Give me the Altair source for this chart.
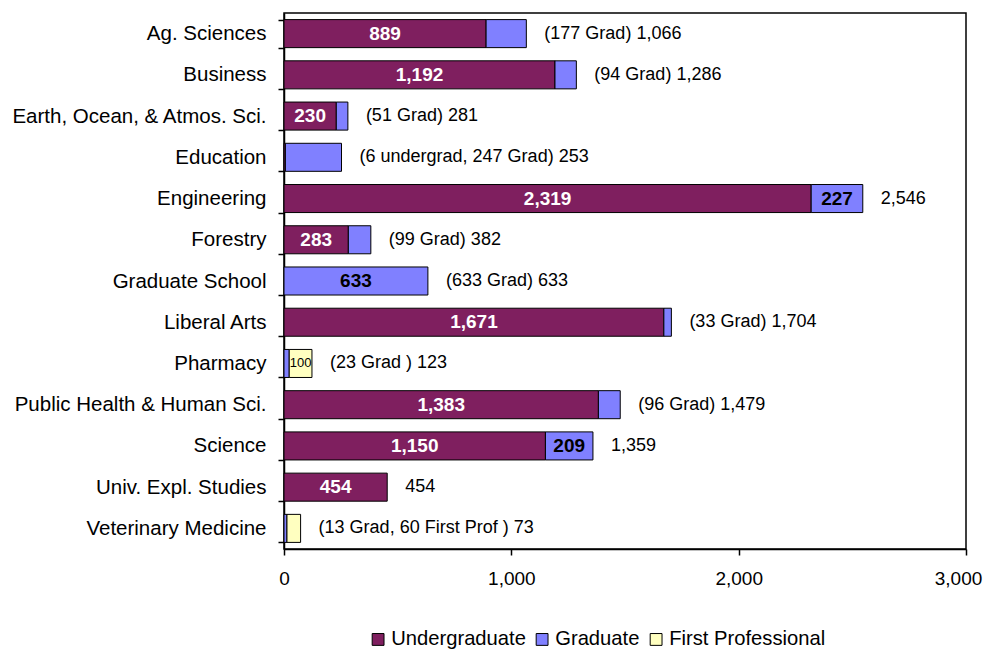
import altair as alt
import pandas as pd

categories = ["Ag. Sciences", "Business", "Earth, Ocean, & Atmos. Sci.", "Education",
              "Engineering", "Forestry", "Graduate School", "Liberal Arts", "Pharmacy",
              "Public Health & Human Sci.", "Science", "Univ. Expl. Studies",
              "Veterinary Medicine"]
undergraduate = [889, 1192, 230, 6, 2319, 283, 0, 1671, 0, 1383, 1150, 454, 0]
graduate = [177, 94, 51, 247, 227, 99, 633, 33, 23, 96, 209, 0, 13]
first_prof = [0, 0, 0, 0, 0, 0, 0, 0, 100, 0, 0, 0, 60]
right_labels = ["(177 Grad) 1,066", "(94 Grad) 1,286", "(51 Grad) 281",
                "(6 undergrad, 247 Grad) 253", "2,546", "(99 Grad) 382",
                "(633 Grad) 633", "(33 Grad) 1,704", "(23 Grad ) 123",
                "(96 Grad) 1,479", "1,359", "454", "(13 Grad, 60 First Prof ) 73"]
x_ticks = [0, 1000, 2000, 3000]
# which segments carry an inner value label
undergrad_labelled = [True, True, True, False, True, True, False, True, False, True, True, True, False]
grad_labelled = [False, False, False, False, True, False, True, False, False, False, True, False, False]
fp_labelled = [False, False, False, False, False, False, False, False, True, False, False, False, False]

series = ["Undergraduate", "Graduate", "First Professional"]
colors = ["#7F1F5F", "#8080FF", "#FFFFC0"]

rows = []
for i, c in enumerate(categories):
    start = 0
    for k, (s, vals, flags) in enumerate(zip(series,
                                             [undergraduate, graduate, first_prof],
                                             [undergrad_labelled, grad_labelled, fp_labelled])):
        v = vals[i]
        if v > 0:
            rows.append({"cat": c, "series": s, "order": k, "start": start, "end": start + v,
                         "mid": start + v / 2, "label": f"{v:,}" if flags[i] else ""})
        start += v
df = pd.DataFrame(rows)

tot = pd.DataFrame({"cat": categories,
                    "total": [u + g + f for u, g, f in zip(undergraduate, graduate, first_prof)],
                    "text": right_labels})

FONT = "Liberation Sans"

xscale = alt.Scale(domain=[0, 3000], nice=False)
xaxis = alt.Axis(values=x_ticks, format=",.0f", grid=False,
                 tickSize=6, tickColor="black", tickWidth=1.5,
                 domainColor="black", domainWidth=1.5, labelPadding=14,
                 labelFontSize=19, labelFont=FONT, labelColor="black",
                 labelOffset={"condition": {"test": "datum.value == 3000", "value": -8},
                              "value": 0},
                 labelFlush=False, labelOverlap=False)

yenc = alt.Y("cat:N", sort=categories, title=None,
             scale=alt.Scale(paddingInner=0.32, paddingOuter=0.16),
             axis=alt.Axis(tickBand="extent", tickSize=6, tickColor="black", tickWidth=1.5,
                           domainColor="black", domainWidth=1.5, labelPadding=12,
                           labelFontSize=20.5, labelFont=FONT, labelColor="black",
                           labelLimit=400))


def xenc(field):
    return alt.X(field, title=None, scale=xscale, axis=xaxis)


bars = alt.Chart(df).mark_bar(stroke="black", strokeWidth=1).encode(
    x=xenc("start:Q"),
    x2="end:Q",
    y=yenc,
    color=alt.Color("series:N", sort=series,
                    scale=alt.Scale(domain=series, range=colors),
                    legend=alt.Legend(title=None, orient="none", direction="horizontal",
                                      legendX=84, legendY=616, symbolType="square",
                                      symbolSize=140, symbolStrokeColor="black",
                                      symbolStrokeWidth=1, labelFontSize=20.2,
                                      labelFont=FONT, labelColor="black",
                                      columnPadding=6, labelOffset=3, labelLimit=300)),
    order="order:Q",
)

ug_text = alt.Chart(df[(df["series"] == "Undergraduate") & (df["label"] != "")]).mark_text(
    color="white", fontWeight="bold", fontSize=19, font=FONT).encode(
    x=xenc("mid:Q"), y=yenc, text="label:N")

gr_text = alt.Chart(df[(df["series"] == "Graduate") & (df["label"] != "")]).mark_text(
    color="black", fontWeight="bold", fontSize=19, font=FONT).encode(
    x=xenc("mid:Q"), y=yenc, text="label:N")

fp_text = alt.Chart(df[(df["series"] == "First Professional") & (df["label"] != "")]).mark_text(
    color="black", fontSize=13, font=FONT).encode(
    x=xenc("mid:Q"), y=yenc, text="label:N")

right = alt.Chart(tot).mark_text(align="left", dx=18, color="black", fontSize=18,
                                 font=FONT).encode(
    x=xenc("total:Q"), y=yenc, text="text:N")

chart = alt.layer(bars, ug_text, gr_text, fp_text, right).properties(
    width=682, height=536,
    background="white",
    autosize=alt.AutoSizeParams(type="none"),
    padding={"left": 276, "top": 5, "right": 17, "bottom": 120},
).configure_view(stroke="black", strokeWidth=1.5)

chart.save("out.html", embed_options={"renderer": "svg", "actions": False})
